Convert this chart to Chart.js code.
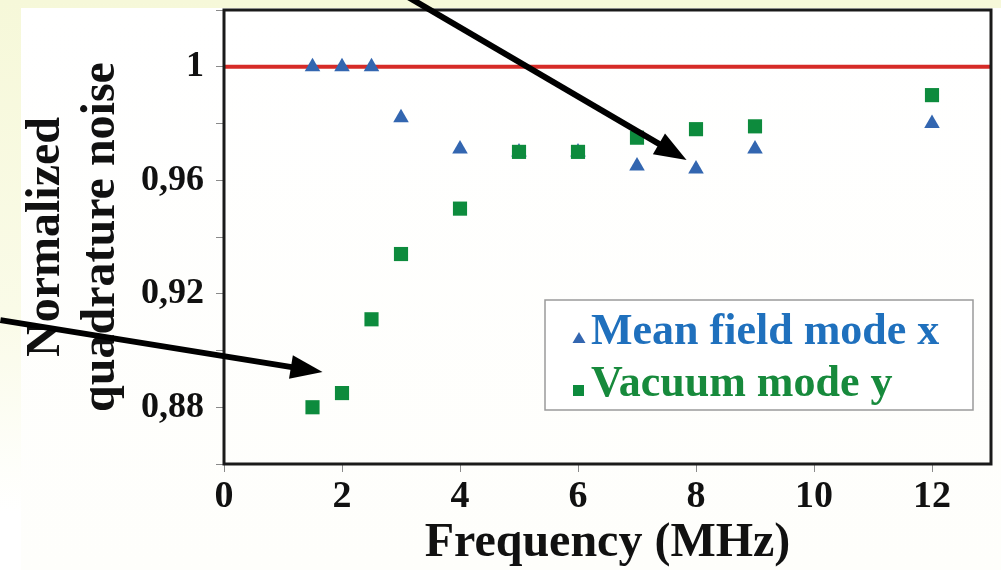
<!DOCTYPE html>
<html>
<head>
<meta charset="utf-8">
<script src="https://cdn.jsdelivr.net/npm/chart.js@4.4.1/dist/chart.umd.min.js"></script>
<style>
  html, body { margin: 0; padding: 0; }
  body {
    width: 1001px; height: 570px; overflow: hidden; position: relative;
    background: linear-gradient(to bottom, #f6f8d9 0%, #fafbe8 55%, #ffffff 90%);
  }
  #sheet {
    position: absolute; left: 21px; top: 8px; right: 0; bottom: 0;
    background: linear-gradient(to bottom, #ffffff 0%, #fefefb 100%);
  }
  #noise { position: absolute; left: 0; top: 0; }
</style>
</head>
<body>
<div id="sheet"></div>
<canvas id="noise" width="1001" height="570"></canvas>
<script>
// ---------------------------
// data
// ---------------------------
const freqs = [1.5, 2, 2.5, 3, 4, 5, 6, 7, 8, 9, 12];
const meanField = [1.000, 1.000, 1.000, 0.982, 0.971, 0.970, 0.970, 0.965, 0.964, 0.971, 0.980];
const vacuum = [0.880, 0.885, 0.911, 0.934, 0.950, 0.970, 0.970, 0.975, 0.978, 0.979, 0.990];
const shotNoise = [1, 1];
const shotNoiseX = [0, 13];
const xTicks = [0, 2, 4, 6, 8, 10, 12];
const yLabelTicks = [0.88, 0.92, 0.96, 1.00];

// annotation arrows, in data units [fromX, fromY, toX, toY]
const arrows = [
    [-3.79, 0.9107, 1.67, 0.8924],
    [3.06, 1.0253, 7.84, 0.9671]
];

const serif = "'Liberation Serif', 'Times New Roman', serif";
const blue = '#3366b0';
const green = '#0d8b3d';

const toPts = (xs, ys) => xs.map((x, i) => ({ x: x, y: ys[i] }));

// black frame round the plot area
const framePlugin = {
    id: 'frame',
    afterDatasetsDraw(chart) {
        const { ctx, chartArea: a } = chart;
        ctx.save();
        ctx.strokeStyle = '#1a1a1a';
        ctx.lineWidth = 3;
        ctx.strokeRect(a.left, a.top, a.right - a.left, a.bottom - a.top);
        ctx.restore();
    }
};

// legend box inside the plot
const legendPlugin = {
    id: 'boxLegend',
    afterDraw(chart) {
        const ctx = chart.ctx;
        const sets = chart.data.datasets.filter(d => d.legendRank)
            .sort((a, b) => a.legendRank - b.legendRank);
        ctx.save();
        ctx.fillStyle = '#ffffff';
        ctx.fillRect(545, 300, 428, 110);
        ctx.strokeStyle = '#9a9a9a';
        ctx.lineWidth = 1.5;
        ctx.strokeRect(545, 300, 428, 110);
        ctx.font = 'bold 44px ' + serif;
        ctx.textBaseline = 'alphabetic';
        sets.forEach((d, i) => {
            const base = 344 + i * 52;
            ctx.fillStyle = d.pointBackgroundColor;
            if (d.pointStyle === 'triangle') {
                ctx.beginPath();
                ctx.moveTo(579, base - 12);
                ctx.lineTo(585.5, base - 1);
                ctx.lineTo(572.5, base - 1);
                ctx.closePath();
                ctx.fill();
            } else {
                ctx.fillRect(573, base - 11, 11, 11);
            }
            ctx.fillStyle = d.labelColor;
            ctx.fillText(d.label, 591, base);
        });
        ctx.restore();
    }
};

// black arrows pointing at the data
const arrowPlugin = {
    id: 'arrows',
    afterDraw(chart) {
        const ctx = chart.ctx;
        const xs = chart.scales.x, ys = chart.scales.y;
        ctx.save();
        ctx.strokeStyle = '#000';
        ctx.fillStyle = '#000';
        arrows.forEach(a => {
            const x0 = xs.getPixelForValue(a[0]), y0 = ys.getPixelForValue(a[1]);
            const x1 = xs.getPixelForValue(a[2]), y1 = ys.getPixelForValue(a[3]);
            const ang = Math.atan2(y1 - y0, x1 - x0);
            const headLen = 32, headW = 12;
            const bx = x1 - Math.cos(ang) * headLen, by = y1 - Math.sin(ang) * headLen;
            ctx.lineWidth = 6;
            ctx.beginPath();
            ctx.moveTo(x0, y0);
            ctx.lineTo(bx + Math.cos(ang) * 4, by + Math.sin(ang) * 4);
            ctx.stroke();
            ctx.beginPath();
            ctx.moveTo(x1, y1);
            ctx.lineTo(bx - Math.sin(ang) * headW, by + Math.cos(ang) * headW);
            ctx.lineTo(bx + Math.sin(ang) * headW, by - Math.cos(ang) * headW);
            ctx.closePath();
            ctx.fill();
        });
        ctx.restore();
    }
};

new Chart(document.getElementById('noise'), {
    type: 'scatter',
    data: {
        datasets: [
            {
                label: 'Vacuum mode y',
                legendRank: 2,
                labelColor: '#178a3c',
                data: toPts(freqs, vacuum),
                pointStyle: 'rect',
                pointRadius: 10,
                pointBackgroundColor: green,
                pointBorderWidth: 0,
                order: 1
            },
            {
                label: 'Mean field mode x',
                legendRank: 1,
                labelColor: '#1f70bd',
                data: toPts(freqs, meanField),
                pointStyle: 'triangle',
                pointRadius: 9,
                pointBackgroundColor: blue,
                pointBorderWidth: 0,
                order: 2
            },
            {
                type: 'line',
                label: 'shot noise',
                data: toPts(shotNoiseX, shotNoise),
                borderColor: '#d62b27',
                borderWidth: 4,
                pointRadius: 0,
                order: 3
            }
        ]
    },
    options: {
        responsive: false,
        animation: false,
        layout: { padding: { left: 0, top: 10, right: 8, bottom: 0 } },
        plugins: {
            legend: { display: false },
            tooltip: { enabled: false }
        },
        scales: {
            x: {
                type: 'linear',
                min: 0,
                max: 13,
                afterFit: s => { s.height = 106; s.paddingLeft = 0; s.paddingRight = 0; },
                afterBuildTicks: s => { s.ticks = xTicks.map(v => ({ value: v })); },
                border: { display: false },
                grid: { drawOnChartArea: false, drawTicks: true, tickLength: 8, color: '#8a8a8a' },
                ticks: {
                    padding: 2,
                    autoSkip: false,
                    maxRotation: 0,
                    color: '#111',
                    font: { family: serif, size: 38, weight: 'bold' }
                },
                title: {
                    display: true,
                    text: 'Frequency (MHz)',
                    color: '#111',
                    padding: { top: 0, bottom: 0 },
                    font: { family: serif, size: 48, weight: 'bold', lineHeight: 1.1 }
                }
            },
            y: {
                min: 0.86,
                max: 1.02,
                afterFit: s => { s.width = 224; s.paddingTop = 0; s.paddingBottom = 0; },
                border: { display: false },
                grid: { drawOnChartArea: false, drawTicks: true, tickLength: 8, color: '#8a8a8a' },
                ticks: {
                    stepSize: 0.02,
                    padding: 12,
                    color: '#111',
                    font: { family: serif, size: 36, weight: 'bold' },
                    callback: v => {
                        const hit = yLabelTicks.find(t => Math.abs(t - v) < 1e-6);
                        if (hit === undefined) return '';
                        return hit === 1 ? '1' : hit.toFixed(2).replace('.', ',');
                    }
                },
                title: {
                    display: true,
                    text: ['Normalized', 'quadrature noise'],
                    color: '#111',
                    padding: { top: 19, bottom: 0 },
                    font: { family: serif, size: 48, weight: 'bold', lineHeight: 1.15 }
                }
            }
        }
    },
    plugins: [framePlugin, legendPlugin, arrowPlugin]
});
</script>
</body>
</html>
